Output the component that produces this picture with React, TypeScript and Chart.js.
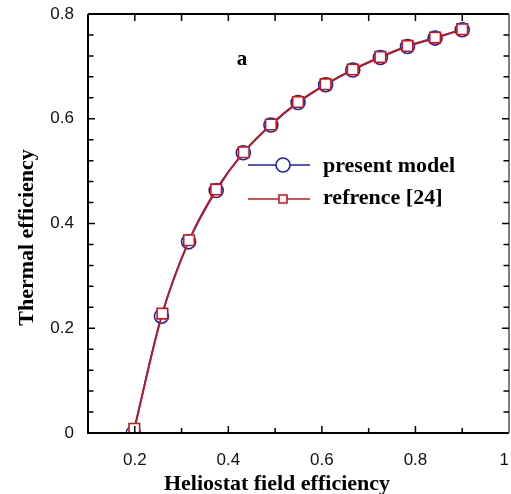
import React, { useEffect, useRef } from 'react';
import { Chart, registerables } from 'chart.js';

Chart.register(...registerables);

// Heliostat field efficiency (x) vs thermal efficiency (y)
const presentX = [0.197, 0.257, 0.315, 0.374, 0.432, 0.491, 0.549, 0.608, 0.666, 0.725, 0.783, 0.842, 0.9];
const presentY = [0.0, 0.223, 0.365, 0.463, 0.535, 0.588, 0.631, 0.665, 0.693, 0.717, 0.738, 0.754, 0.77];
const refX = [0.199, 0.259, 0.316, 0.374, 0.433, 0.491, 0.549, 0.608, 0.666, 0.725, 0.783, 0.842, 0.9];
const refY = [0.008, 0.228, 0.368, 0.465, 0.536, 0.589, 0.632, 0.666, 0.694, 0.718, 0.739, 0.755, 0.771];

const xTickValues = [0.2, 0.4, 0.6, 0.8, 1.0];
const xMinorTicks = [0.3, 0.5, 0.7, 0.9];
const yTickValues = [0, 0.2, 0.4, 0.6, 0.8];
const yMinorTicks = [0.04, 0.08, 0.12, 0.16, 0.24, 0.28, 0.32, 0.36, 0.44, 0.48, 0.52, 0.56, 0.64, 0.68, 0.72, 0.76];

const seriesNames = ['present model', 'refrence [24]'];
const panelLabel = 'a';
const xTitle = 'Heliostat field efficiency';
const yTitle = 'Thermal efficiency';

const BLUE = '#1e22b0';
const RED = '#c8141e';
const SERIF = '"Liberation Serif", "Times New Roman", serif';
const SANS = '"Liberation Sans", Arial, sans-serif';

const decorPlugin = {
  id: 'decor',
  afterDraw(chart: any) {
    const ctx = chart.ctx as CanvasRenderingContext2D;
    const { left, right, top, bottom } = chart.chartArea;
    const xs = chart.scales.x;
    const ys = chart.scales.y;
    ctx.save();
    // frame
    ctx.strokeStyle = '#000';
    ctx.lineWidth = 2;
    ctx.beginPath();
    ctx.moveTo(left, top);
    ctx.lineTo(left, bottom);
    ctx.lineTo(right, bottom);
    ctx.moveTo(left, top);
    ctx.lineTo(right, top);
    ctx.stroke();
    ctx.strokeStyle = '#555';
    ctx.lineWidth = 1.5;
    ctx.beginPath();
    ctx.moveTo(right, top);
    ctx.lineTo(right, bottom);
    ctx.stroke();

    // inward ticks
    ctx.strokeStyle = '#000';
    ctx.lineWidth = 1.5;
    ctx.beginPath();
    const xt = [...xTickValues.filter((v) => v < 1), ...xMinorTicks];
    xt.forEach((v) => {
      const px = xs.getPixelForValue(v);
      const major = xTickValues.includes(v);
      ctx.moveTo(px, bottom);
      ctx.lineTo(px, bottom - (major ? 7 : 5));
      ctx.moveTo(px, top);
      ctx.lineTo(px, top + 7);
    });
    const yt = [...yTickValues.filter((v) => v > 0 && v < 0.8), ...yMinorTicks];
    yt.forEach((v) => {
      const py = ys.getPixelForValue(v);
      const major = yTickValues.includes(v);
      const len = major ? 7 : 5.5;
      ctx.moveTo(left, py);
      ctx.lineTo(left + len, py);
      ctx.moveTo(right, py);
      ctx.lineTo(right - len, py);
    });
    ctx.stroke();

    // titles
    ctx.fillStyle = '#000';
    ctx.font = `bold 22px ${SERIF}`;
    ctx.textAlign = 'center';
    ctx.textBaseline = 'alphabetic';
    ctx.fillText(xTitle, 277, 490);
    ctx.save();
    ctx.translate(33, 237.5);
    ctx.rotate(-Math.PI / 2);
    ctx.fillText(yTitle, 0, 0);
    ctx.restore();

    // panel label
    ctx.font = `bold 21px ${SERIF}`;
    ctx.fillText(panelLabel, 242, 65);

    // legend
    const rows = [
      { y: 165, color: BLUE, style: 'circle', text: seriesNames[0], base: 172 },
      { y: 199, color: RED, style: 'rect', text: seriesNames[1], base: 204 },
    ];
    rows.forEach((r) => {
      ctx.strokeStyle = r.color;
      ctx.lineWidth = 1.6;
      ctx.beginPath();
      ctx.moveTo(248, r.y);
      ctx.lineTo(310, r.y);
      ctx.stroke();
      ctx.fillStyle = '#fff';
      ctx.beginPath();
      if (r.style === 'circle') {
        ctx.arc(283, r.y, 7, 0, Math.PI * 2);
      } else {
        ctx.rect(279, r.y - 4, 8, 8);
      }
      ctx.fill();
      ctx.lineWidth = 1.6;
      ctx.stroke();
      ctx.fillStyle = '#000';
      ctx.font = `bold 22px ${SERIF}`;
      ctx.textAlign = 'left';
      ctx.fillText(r.text, 323, r.base);
    });
    ctx.restore();
  },
};

export default function App() {
  const ref = useRef<HTMLCanvasElement | null>(null);
  useEffect(() => {
    document.body.style.margin = '0';
    const canvas = ref.current;
    if (!canvas) return;
    const chart = new Chart(canvas, {
      type: 'line',
      data: {
        datasets: [
          {
            label: seriesNames[1],
            data: refX.map((x, i) => ({ x, y: refY[i] })),
            borderColor: RED,
            backgroundColor: '#fff',
            borderWidth: 1.8,
            pointStyle: 'rect',
            pointRadius: 7.5,
            pointBorderWidth: 1.6,
            pointBorderColor: RED,
            pointBackgroundColor: '#fff',
            cubicInterpolationMode: 'monotone',
            order: 0,
          },
          {
            label: seriesNames[0],
            data: presentX.map((x, i) => ({ x, y: presentY[i] })),
            borderColor: BLUE,
            backgroundColor: '#fff',
            borderWidth: 1.8,
            pointStyle: 'circle',
            pointRadius: 7,
            pointBorderWidth: 1.6,
            pointBorderColor: BLUE,
            pointBackgroundColor: '#fff',
            cubicInterpolationMode: 'monotone',
            order: 1,
          },
        ],
      },
      options: {
        animation: false,
        responsive: false,
        maintainAspectRatio: false,
        layout: { autoPadding: false, padding: { top: 14, right: 2, left: 0, bottom: 0 } },
        plugins: { legend: { display: false }, tooltip: { enabled: false } },
        scales: {
          x: {
            type: 'linear',
            min: 0.1,
            max: 1.0,
            afterFit: (s: any) => {
              s.height = 61;
              s.paddingLeft = 0;
              s.paddingRight = 0;
            },
            afterBuildTicks: (s: any) => {
              s.ticks = xTickValues.map((v) => ({ value: v }));
            },
            ticks: {
              autoSkip: false,
              maxRotation: 0,
              padding: 9,
              color: '#111',
              font: { family: SANS, size: 17 },
              callback: (v: any) => (Number(v) === 1 ? '1  ' : Number(v).toFixed(1)),
            },
            grid: { display: false },
            border: { display: false },
          },
          y: {
            type: 'linear',
            min: 0,
            max: 0.8,
            afterFit: (s: any) => {
              s.width = 88;
              s.paddingTop = 0;
              s.paddingBottom = 0;
            },
            afterBuildTicks: (s: any) => {
              s.ticks = yTickValues.map((v) => ({ value: v }));
            },
            ticks: {
              autoSkip: false,
              padding: 6,
              color: '#111',
              font: { family: SANS, size: 17 },
              callback: (v: any) => (Number(v) === 0 ? '0' : Number(v).toFixed(1)),
            },
            grid: { display: false },
            border: { display: false },
          },
        },
      },
      plugins: [decorPlugin],
    } as any);
    return () => chart.destroy();
  }, []);
  return <canvas ref={ref} width={511} height={494} style={{ display: 'block' }} />;
}
